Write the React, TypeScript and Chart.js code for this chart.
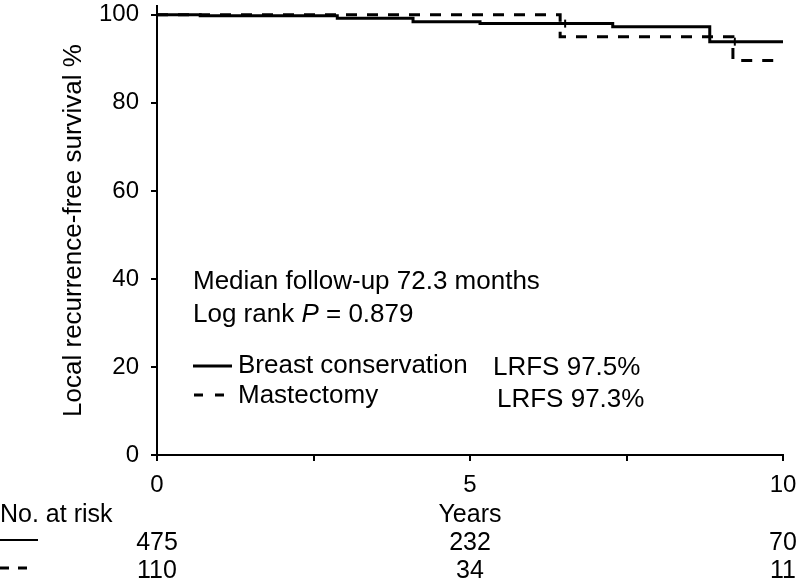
import React, { useEffect, useRef } from "react";
import { Chart, registerables } from "chart.js";

Chart.register(...registerables);

const FONT = "'Liberation Sans', Arial, Helvetica, sans-serif";

// Kaplan-Meier step points (time in years, survival %)
const bcsYears = [0, 0.69, 2.88, 4.09, 5.16, 7.28, 8.83, 10];
const bcsSurvival = [100, 99.8, 99.2, 98.4, 98.0, 97.3, 93.9, 93.9];
const mastYears = [0, 6.44, 9.2, 10];
const mastSurvival = [100, 95.0, 89.6, 89.6];
const censorYears = [6.52, 9.23];
const censorSurvival = [98.0, 93.9];

const xTicks = [0, 2.5, 5, 7.5, 10];
const xLabels = ["0", "", "5", "", "10"];
const yTicks = [0, 20, 40, 60, 80, 100];

const riskTimes = [0, 5, 10];
const riskBcs = [475, 232, 70];
const riskMast = [110, 34, 11];

const legendLabels = ["Breast conservation", "Mastectomy"];
const lrfsLabels = ["LRFS 97.5%", "LRFS 97.3%"];
const noteLines = ["Median follow-up 72.3 months"];
const logRank = { prefix: "Log rank ", symbol: "P", value: " = 0.879" };

const annotationPlugin = {
  id: "kmAnnotations",
  afterDraw(chart: any) {
    const ctx = chart.ctx as CanvasRenderingContext2D;
    const xs = chart.scales.x;
    const normal = `26px ${FONT}`;
    ctx.save();
    ctx.fillStyle = "#000";
    ctx.strokeStyle = "#000";
    ctx.font = normal;
    ctx.textBaseline = "middle";
    ctx.textAlign = "left";

    // notes
    ctx.fillText(noteLines[0], 193, 282);
    let x = 193;
    ctx.fillText(logRank.prefix, x, 315);
    x += ctx.measureText(logRank.prefix).width;
    ctx.font = `italic 26px ${FONT}`;
    ctx.fillText(logRank.symbol, x, 315);
    x += ctx.measureText(logRank.symbol).width;
    ctx.font = normal;
    ctx.fillText(logRank.value, x, 315);

    // legend
    ctx.lineWidth = 3;
    ctx.setLineDash([]);
    ctx.beginPath();
    ctx.moveTo(193, 366);
    ctx.lineTo(232, 366);
    ctx.stroke();
    ctx.setLineDash([9, 12]);
    ctx.beginPath();
    ctx.moveTo(194, 395);
    ctx.lineTo(224, 395);
    ctx.stroke();
    ctx.setLineDash([]);
    ctx.fillText(legendLabels[0], 238, 366);
    ctx.fillText(legendLabels[1], 238, 396);
    ctx.fillText(lrfsLabels[0], 493, 368);
    ctx.fillText(lrfsLabels[1], 497, 400);

    // number at risk table
    ctx.font = `25px ${FONT}`;
    ctx.fillText("No. at risk", 0, 515);
    ctx.lineWidth = 2;
    ctx.beginPath();
    ctx.moveTo(0, 540);
    ctx.lineTo(38, 540);
    ctx.stroke();
    ctx.lineWidth = 3;
    ctx.setLineDash([9, 9]);
    ctx.beginPath();
    ctx.moveTo(0, 568);
    ctx.lineTo(30, 568);
    ctx.stroke();
    ctx.setLineDash([]);
    ctx.textAlign = "center";
    riskTimes.forEach((t, i) => {
      const px = xs.getPixelForValue(t);
      ctx.fillText(String(riskBcs[i]), px, 543);
      ctx.fillText(String(riskMast[i]), px, 571);
    });
    ctx.restore();
  },
};

export default function App() {
  const canvasRef = useRef<HTMLCanvasElement | null>(null);

  useEffect(() => {
    if (!canvasRef.current) return;
    const chart = new Chart(canvasRef.current, {
      type: "line",
      data: {
        datasets: [
          {
            label: legendLabels[0],
            data: bcsYears.map((x, i) => ({ x, y: bcsSurvival[i] })),
            borderColor: "#000",
            borderWidth: 3,
            stepped: "before",
            pointRadius: 0,
            fill: false,
          },
          {
            label: legendLabels[1],
            data: mastYears.map((x, i) => ({ x, y: mastSurvival[i] })),
            borderColor: "#000",
            borderWidth: 3,
            borderDash: [11, 10],
            stepped: "before",
            pointRadius: 0,
            fill: false,
          },
          {
            label: "censored",
            data: censorYears.map((x, i) => ({ x, y: censorSurvival[i] })),
            showLine: false,
            pointStyle: "line",
            rotation: 90,
            pointRadius: 4,
            borderWidth: 2,
            borderColor: "#000",
            backgroundColor: "#000",
          },
        ],
      },
      options: {
        responsive: false,
        animation: false,
        layout: { padding: { left: 0, top: 4, right: 15, bottom: 0 } },
        plugins: {
          legend: { display: false },
          tooltip: { enabled: false },
        },
        scales: {
          x: {
            type: "linear",
            min: 0,
            max: 10,
            afterBuildTicks: (s: any) => {
              s.ticks = xTicks.map((v) => ({ value: v }));
            },
            afterFit: (s: any) => {
              s.height = 128;
              s.paddingLeft = 0;
              s.paddingRight = 0;
            },
            ticks: {
              autoSkip: false,
              maxRotation: 0,
              padding: 10,
              color: "#000",
              font: { family: FONT, size: 24 },
              callback: (v: any) => {
                const i = xTicks.indexOf(Number(v));
                return i >= 0 ? xLabels[i] : "";
              },
            },
            grid: {
              display: true,
              drawOnChartArea: false,
              drawTicks: true,
              tickLength: 6,
              color: "#000",
              lineWidth: 2,
            },
            border: { display: true, color: "#000", width: 2 },
            title: {
              display: true,
              text: "Years",
              color: "#000",
              font: { family: FONT, size: 25 },
              padding: { top: 0, bottom: 53 },
            },
          },
          y: {
            type: "linear",
            min: 0,
            max: 102,
            afterBuildTicks: (s: any) => {
              s.ticks = yTicks.map((v) => ({ value: v }));
            },
            afterFit: (s: any) => {
              s.width = 157;
              s.paddingTop = 0;
              s.paddingBottom = 0;
            },
            ticks: {
              padding: 12,
              color: "#000",
              font: { family: FONT, size: 24 },
              callback: (v: any) => String(v),
            },
            grid: {
              display: true,
              drawOnChartArea: false,
              drawTicks: true,
              tickLength: 6,
              color: "#000",
              lineWidth: 2,
            },
            border: { display: true, color: "#000", width: 2 },
            title: {
              display: true,
              text: "Local recurrence-free survival %",
              color: "#000",
              font: { family: FONT, size: 26 },
              padding: { top: 58, bottom: 0 },
            },
          },
        },
      },
      plugins: [annotationPlugin],
    } as any);
    return () => chart.destroy();
  }, []);

  return (
    <div style={{ position: "fixed", left: 0, top: 0, width: 798, height: 583, background: "#fff" }}>
      <canvas ref={canvasRef} width={798} height={583} />
    </div>
  );
}
